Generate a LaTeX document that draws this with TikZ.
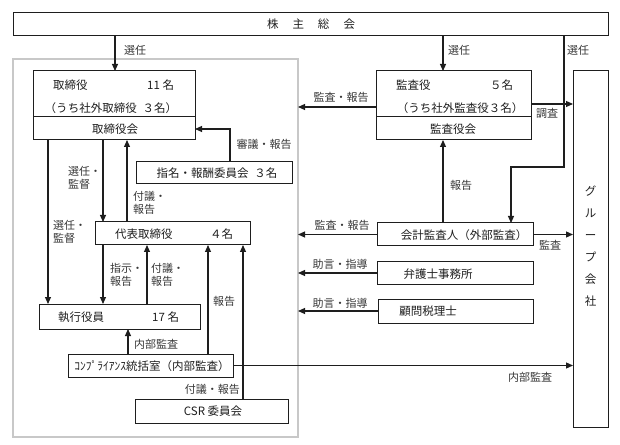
\documentclass[tikz,border=0pt]{standalone}
\usepackage{fontspec}
\setmainfont{Noto Sans CJK JP}
\usetikzlibrary{arrows.meta}
\definecolor{frame}{RGB}{200,200,200}
\definecolor{ink}{RGB}{30,30,30}
\definecolor{lab}{RGB}{55,55,55}
\tikzset{
  box/.style={draw=ink, line width=1bp, inner sep=0pt, outer sep=0pt, anchor=north west},
  arr/.style={draw=ink, line width=1.1bp, -{Triangle[length=7bp,width=6bp]}},
  ln/.style={draw=ink, line width=1.1bp},
  txt/.style={inner sep=0pt, font=\fontsize{11.5bp}{13bp}\selectfont, text=ink},
  lbl/.style={inner sep=0pt, font=\fontsize{11bp}{13bp}\selectfont, text=lab, align=left}
}
\begin{document}
\begin{tikzpicture}[x=1bp,y=-1bp]
\useasboundingbox (0,0) rectangle (620,445);
% frame
\node[draw=frame, line width=1.5bp, inner sep=0pt, outer sep=0pt, anchor=north west, minimum width=285bp, minimum height=378bp] (board) at (13,59) {};
% boxes
\node[box, minimum width=595bp, minimum height=23bp] (soukai) at (13,13) {};
\node[box, minimum width=162bp, minimum height=69bp] (tori) at (33,71) {};
\node[box, minimum width=155bp, minimum height=69bp] (kansa) at (376,71) {};
\node[box, minimum width=35bp, minimum height=356bp] (group) at (573,71) {};
\node[box, minimum width=156bp, minimum height=22bp] (shimei) at (136,162) {};
\node[box, minimum width=155bp, minimum height=23bp] (daihyo) at (95,222) {};
\node[box, minimum width=161bp, minimum height=25bp] (shikko) at (39,304) {};
\node[box, minimum width=165bp, minimum height=23bp] (compl) at (68,354) {};
\node[box, minimum width=153bp, minimum height=24bp] (csr) at (135,399) {};
\node[box, minimum width=156bp, minimum height=23bp] (kaikei) at (377,223) {};
\node[box, minimum width=156bp, minimum height=22bp] (bengo) at (377,262) {};
\node[box, minimum width=155bp, minimum height=24bp] (zeiri) at (378,299) {};
% dividers
\draw[ln, line width=1bp] (33,117) -- (195,117);
\draw[ln, line width=1bp] (376,117) -- (531,117);
% texts
\node[txt] (t0) at (311,24.5) {株\hspace{14bp}主\hspace{14bp}総\hspace{14bp}会};
\node[txt, anchor=west] (t1) at (53,85) {取締役};
\node[txt, anchor=west] (t2) at (147,85) {11 名};
\node[txt] (t3) at (111,108) {（うち社外取締役\hspace{6bp}３名）};
\node[txt] (t4) at (115,129) {取締役会};
\node[txt, anchor=west] (t5) at (396,85) {監査役};
\node[txt, anchor=west] (t6) at (490,85) {５名};
\node[txt] (t7) at (460,108) {（うち社外監査役３名）};
\node[txt] (t8) at (453,129) {監査役会};
\node[txt] (t9) at (217,173) {指名・報酬委員会\hspace{6bp}３名};
\node[txt, anchor=west] (t10) at (115,234) {代表取締役};
\node[txt, anchor=west] (t11) at (210,234) {４名};
\node[txt, anchor=west] (t12) at (58,317) {執行役員};
\node[txt, anchor=west] (t13) at (152,317) {17 名};
\node[txt] (t14) at (152,366) {ｺﾝﾌﾟﾗｲｱﾝｽ統括室（内部監査）};
\node[txt] (t15) at (213,411) {CSR 委員会};
\node[txt] (t16) at (464,235) {会計監査人（外部監査）};
\node[txt] (t17) at (438,274) {弁護士事務所};
\node[txt] (t18) at (428,311) {顧問税理士};
\node[txt, align=center] (t19) at (590.5,246) {グ\\[9bp]ル\\[9bp]ー\\[9bp]プ\\[9bp]会\\[9bp]社};
% helper coordinates
\coordinate (X48) at (48,0);
\coordinate (X103) at (103,0);
\coordinate (X115) at (115,0);
\coordinate (X127) at (127,0);
\coordinate (X128) at (128,0);
\coordinate (X147) at (147,0);
\coordinate (X208) at (208,0);
\coordinate (X230) at (230,0);
\coordinate (X243) at (243,0);
\coordinate (X443) at (443,0);
\coordinate (X564) at (564,0);
\coordinate (X511) at (511,0);
\coordinate (Y104) at (0,104);
\coordinate (Y107) at (0,107);
\coordinate (Y129) at (0,129);
\coordinate (bend1) at (564,167);
\coordinate (bend2) at (511,167);
% connectors
\draw[arr] (soukai.south -| X115) -- (tori.north -| X115);
\draw[arr] (soukai.south -| X443) -- (kansa.north -| X443);
\draw[arr] (soukai.south -| X564) -- (bend1) -- (bend2) -- (kaikei.north -| X511);
\draw[arr] (kansa.west |- Y107) -- (board.east |- Y107);
\draw[arr] (kansa.east |- Y104) -- (group.west |- Y104);
\draw[arr] (kaikei.north -| X443) -- (kansa.south -| X443);
\draw[arr] (kaikei.west) -- (board.east |- kaikei.west);
\draw[arr] (kaikei.east) -- (group.west |- kaikei.east);
\draw[arr] (bengo.west) -- (board.east |- bengo.west);
\draw[arr] (zeiri.west) -- (board.east |- zeiri.west);
\draw[arr] (compl.east) -- (group.west |- compl.east);
\draw[arr] (shimei.north -| X230) |- (tori.east |- Y129);
\draw[arr] (tori.south -| X48) -- (shikko.north -| X48);
\draw[arr] (tori.south -| X103) -- (daihyo.north -| X103);
\draw[arr] (daihyo.north -| X127) -- (tori.south -| X127);
\draw[arr] (daihyo.south -| X103) -- (shikko.north -| X103);
\draw[arr] (shikko.north -| X147) -- (daihyo.south -| X147);
\draw[arr] (compl.north -| X208) -- (daihyo.south -| X208);
\draw[arr] (csr.north -| X243) -- (daihyo.south -| X243);
\draw[arr] (compl.north -| X128) -- (shikko.south -| X128);
% labels
\node[lbl, anchor=west] (l1) at (124,50) {選任};
\node[lbl, anchor=west] (l2) at (448,50) {選任};
\node[lbl, anchor=west] (l3) at (567,50) {選任};
\node[lbl] (l4) at (341,97) {監査・報告};
\node[lbl] (l5) at (547,113) {調査};
\node[lbl] (l6) at (264,144) {審議・報告};
\node[lbl, anchor=north west] (l7) at (68,166) {選任・\\監督};
\node[lbl, anchor=north west] (l8) at (133,191) {付議・\\報告};
\node[lbl, anchor=north west] (l9) at (53,220) {選任・\\監督};
\node[lbl, anchor=north west] (l10) at (110,263) {指示・\\報告};
\node[lbl, anchor=north west] (l11) at (151,263) {付議・\\報告};
\node[lbl, anchor=west] (l12) at (213,301) {報告};
\node[lbl, anchor=west] (l13) at (134,344) {内部監査};
\node[lbl, anchor=east] (l14) at (240,389) {付議・報告};
\node[lbl, anchor=west] (l15) at (450,185) {報告};
\node[lbl] (l16) at (342,225) {監査・報告};
\node[lbl] (l17) at (550,245) {監査};
\node[lbl] (l18) at (340,264) {助言・指導};
\node[lbl] (l19) at (340,303) {助言・指導};
\node[lbl] (l20) at (530,377) {内部監査};
\end{tikzpicture}
\end{document}
